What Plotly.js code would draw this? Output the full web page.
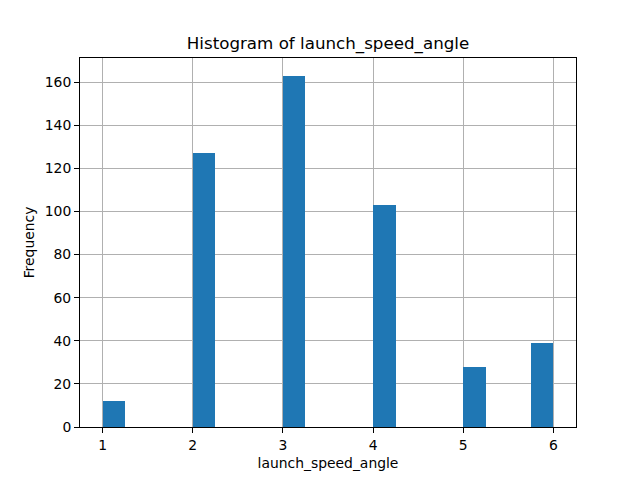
<!DOCTYPE html>
<html>
<head>
<meta charset="utf-8">
<script src="https://cdn.plot.ly/plotly-3.0.1.min.js"></script>
<style>body{margin:0;} #chart{width:640px;height:480px;}</style>
</head>
<body>
<div id="chart"></div>
<script>
// bin left edges (20 bins over 1..6, width 0.25) and their counts
var binStart = [1, 2, 3, 4, 5, 5.75];
var counts = [12, 127, 163, 103, 28, 39];
var binWidth = 0.25;
var xTicks = [1, 2, 3, 4, 5, 6];
var yTicks = [0, 20, 40, 60, 80, 100, 120, 140, 160];

var trace = {
    type: "bar",
    x: binStart,
    y: counts,
    width: binStart.map(function () { return binWidth; }),
    offset: 0,
    marker: {color: "#1f77b4", line: {width: 0}},
    hoverinfo: "x+y"
};

var axisBase = {
    showline: true,
    mirror: true,
    linecolor: "black",
    linewidth: 1,
    ticks: "outside",
    ticklen: 5,
    tickwidth: 1,
    tickcolor: "black",
    showgrid: true,
    gridcolor: "#b0b0b0",
    gridwidth: 1,
    zeroline: false,
    layer: "above traces",
    tickfont: {family: "DejaVu Sans", size: 13.9, color: "black"}
};

var layout = {
    width: 640,
    height: 480,
    margin: {l: 80, r: 64, t: 58, b: 53, pad: 0},
    paper_bgcolor: "white",
    plot_bgcolor: "white",
    showlegend: false,
    bargap: 0,
    title: {
        text: "Histogram of launch_speed_angle",
        font: {family: "DejaVu Sans", size: 16.7, color: "black"},
        x: 0.5, xref: "paper", y: 0.897, yanchor: "bottom"
    },
    xaxis: Object.assign({}, axisBase, {
        range: [0.75, 6.25],
        tickvals: xTicks,
        title: {text: "launch_speed_angle", font: {family: "DejaVu Sans", size: 13.9, color: "black"}, standoff: 6}
    }),
    yaxis: Object.assign({}, axisBase, {
        range: [0, 171.15],
        tickvals: yTicks,
        title: {text: "Frequency", font: {family: "DejaVu Sans", size: 13.9, color: "black"}, standoff: 6}
    })
};

Plotly.newPlot("chart", [trace], layout, {displayModeBar: false});
</script>
</body>
</html>
